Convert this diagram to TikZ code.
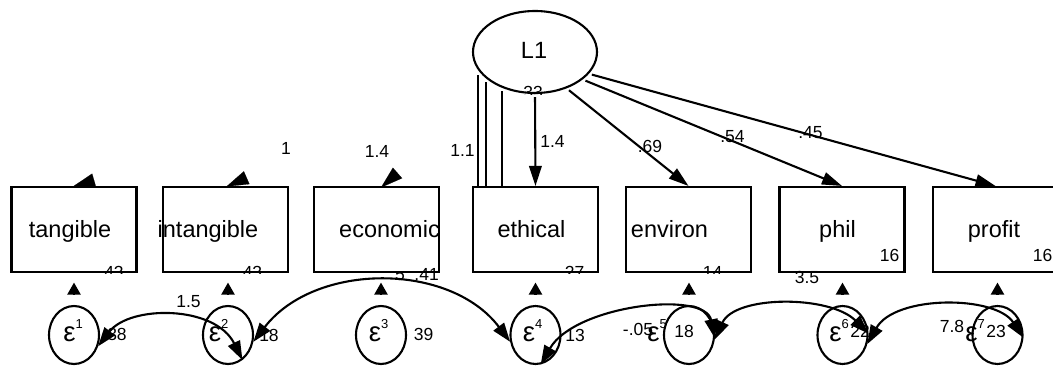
\documentclass[tikz,border=0pt]{standalone}
\usepackage{fontspec}
\setmainfont{Liberation Sans}
\usetikzlibrary{arrows.meta,shapes.geometric,calc}

% error term symbol with raised index
\newcommand{\errsym}[1]{{\fontsize{27.5}{27.5}\selectfont ε}\raisebox{13.5pt}{\fontsize{13}{13}\selectfont #1}}

\tikzset{
  obs/.style={draw, fill=white, rectangle, minimum width=125pt, minimum height=85pt, inner sep=0pt, line width=2.1pt},
  lat/.style={draw, fill=white, ellipse, minimum width=124pt, minimum height=82pt, inner sep=0pt, line width=2.1pt},
  err/.style={draw, ellipse, minimum width=50pt, minimum height=58pt, inner sep=0pt, line width=2.1pt},
  vartext/.style={font=\fontsize{23.5}{23.5}\selectfont, anchor=base, inner sep=0pt},
  numtext/.style={font=\fontsize{17.5}{17.5}\selectfont, anchor=base, inner sep=0pt},
  errtext/.style={anchor=base, inner sep=0pt},
  loadarrow/.style={line width=2.1pt, -{Triangle[length=20pt,width=12.5pt]}},
  ghosttip/.style={line width=0.1pt, -{Triangle[length=22pt,width=14pt]}},
  errarrow/.style={line width=2.1pt, -{Triangle[length=12pt,width=13pt]}, shorten <=10pt, shorten >=9.5pt},
  covarrow/.style={line width=2.1pt, {Triangle[length=19pt,width=13pt]}-{Triangle[length=19pt,width=13pt]}},
  plainline/.style={line width=2.1pt},
}

\begin{document}
\begin{tikzpicture}[x=1pt,y=-1pt]
\useasboundingbox (0,0) rectangle (1053,365);
\clip (0,0) rectangle (1053,365);

% latent variable
\node[lat] (L1) at (535,52) {};
\node[vartext] (L1t) at (534,58) {L1};
\begin{scope}
  \clip (500,70) rectangle (570,94);
  \node[numtext] (v33) at (533,98.5) {33};
\end{scope}

% box centres (needed before the tips)
\path (74,229.5) coordinate (ctangible)
      (225.5,229.5) coordinate (cintangible)
      (376.5,229.5) coordinate (ceconomic);

% arrow tips whose lines are hidden
\node[numtext] (cov24) at (400,280) {5};
\coordinate (gt1) at ($(ctangible)+(-1,-43)$);
\coordinate (gt2) at ($(cintangible)+(1,-43)$);
\coordinate (gt3) at ($(ceconomic)+(4.5,-42)$);
\draw[ghosttip] ($(gt1)!22pt!(L1.center)$) -- (gt1);
\draw[ghosttip] ($(gt2)!22pt!(L1.center)$) -- (gt2);
\draw[ghosttip] ($(gt3)!22pt!(L1.center)$) -- (gt3);

% observed variables
\node[obs] (tangible) at (ctangible) {};
\node[obs] (intangible) at (cintangible) {};
\node[obs] (economic) at (ceconomic) {};
\node[obs] (ethical) at (535.5,229.5) {};
\node[obs] (environ) at (688.5,229.5) {};
\node[obs] (phil) at (842,229.5) {};
\node[obs] (profit) at (995.5,229.5) {};

\node[vartext] (tangibleT) at (70,237) {tangible};
\node[vartext] (intangibleT) at (208,237) {intangible};
\node[vartext] (economicT) at (389.5,237) {economic};
\node[vartext] (ethicalT) at (531.5,237) {ethical};
\node[vartext] (environT) at (669.5,237) {environ};
\node[vartext] (philT) at (837.5,237) {phil};
\node[vartext] (profitT) at (994,237) {profit};

% intercepts
\begin{scope}
  \clip (tangible.south west) rectangle (tangible.north east);
  \node[numtext] (itangible) at (114,278.5) {43};
\end{scope}
\begin{scope}
  \clip (intangible.south west) rectangle (intangible.north east);
  \node[numtext] (iintangible) at (252.5,278.5) {43};
\end{scope}
\begin{scope}
  \clip (ethical.south west) rectangle (ethical.north east);
  \node[numtext] (iethical) at (574.5,278.5) {27};
\end{scope}
\begin{scope}
  \clip (environ.south west) rectangle (environ.north east);
  \node[numtext] (ienviron) at (712.5,278.5) {14};
\end{scope}
\node[numtext, anchor=base east] (ieconomic) at (439,280) {.41};
\node[numtext] (iphil) at (889.5,261) {16};
\node[numtext] (iprofit) at (1042.5,261) {16};

% loadings
\coordinate (v1) at (478,75);
\coordinate (v2) at (486,82);
\coordinate (v3) at (502,91);
\draw[plainline] (v1) -- (v1 |- ethical.north);
\draw[plainline] (v2) -- (v2 |- ethical.north);
\draw[plainline] (v3) -- (v3 |- ethical.north);
\draw[loadarrow, shorten <=3pt] (L1.south) -- (ethical.north);
\draw[loadarrow, shorten <=3pt] (L1.-49) -- (environ.north);
\draw[loadarrow, shorten <=3pt] (L1.-30) -- (phil.north);
\draw[loadarrow, shorten <=3pt] (L1.-22) -- (profit.north);

\node[numtext] (l2) at (286,154) {1};
\node[numtext] (l3) at (377,157) {1.4};
\node[numtext] (l4a) at (462.5,156) {1.1};
\node[numtext] (l4b) at (552.5,147) {1.4};
\node[numtext] (l5) at (650,152) {.69};
\node[numtext] (l6) at (732.5,142) {.54};
\node[numtext] (l7) at (810.5,138) {.45};

% error terms
\node[err] (e1) at (74,335) {};
\node[err] (e2) at (228,335) {};
\node[err] (e3) at (381,335) {};
\node[err] (e4) at (535.5,335) {};
\node[err] (e5) at (689,335) {};
\node[err] (e6) at (842.5,335) {};
\node[err] (e7) at (997.5,335) {};

\node[errtext] (e1t) at (73,341.5) {\errsym{1}};
\node[errtext] (e2t) at (218.5,341.5) {\errsym{2}};
\node[errtext] (e3t) at (378.5,341.5) {\errsym{3}};
\node[errtext] (e4t) at (532.5,341.5) {\errsym{4}};
\node[errtext] (e5t) at (657,341.5) {\errsym{5}};
\node[errtext] (e6t) at (839,341.5) {\errsym{6}};
\node[errtext] (e7t) at (975,341.5) {\errsym{7}};

% error variances
\node[numtext] (var1) at (117,340) {38};
\node[numtext] (var2) at (269,341) {18};
\node[numtext] (var3) at (423.5,340) {39};
\node[numtext] (var4) at (575,341) {13};
\node[numtext] (var5) at (684,337) {18};
\node[numtext] (var6) at (860,337) {22};
\node[numtext] (var7) at (996,337) {23};

\draw[errarrow] (e1.north) -- (e1.north |- tangible.south);
\draw[errarrow] (e2.north) -- (e2.north |- intangible.south);
\draw[errarrow] (e3.north) -- (e3.north |- economic.south);
\draw[errarrow] (e4.north) -- (e4.north |- ethical.south);
\draw[errarrow] (e5.north) -- (e5.north |- environ.south);
\draw[errarrow] (e6.north) -- (e6.north |- phil.south);
\draw[errarrow] (e7.north) -- (e7.north |- profit.south);

% covariances
\node[numtext] (c12) at (188.5,307) {1.5};
\node[numtext] (c45) at (638,335) {-.05};
\node[numtext] (c56) at (807,283) {3.5};
\node[numtext] (c67) at (952,332) {7.8};

\draw[covarrow] (e1.-25) .. controls (130,305) and (215,305) .. (e2.-60);
\draw[covarrow] (e2.-15) .. controls (315,262) and (450,262) .. (e4.195);
\draw[covarrow] (e4.-80) .. controls (575,305) and (705,290) .. (e5.-7);
\draw[covarrow] (e5.-10) .. controls (735,295) and (830,295) .. (e6.3);
\draw[covarrow] (e6.-20) .. controls (895,295) and (995,295) .. (e7.-6);
\end{tikzpicture}
\end{document}
